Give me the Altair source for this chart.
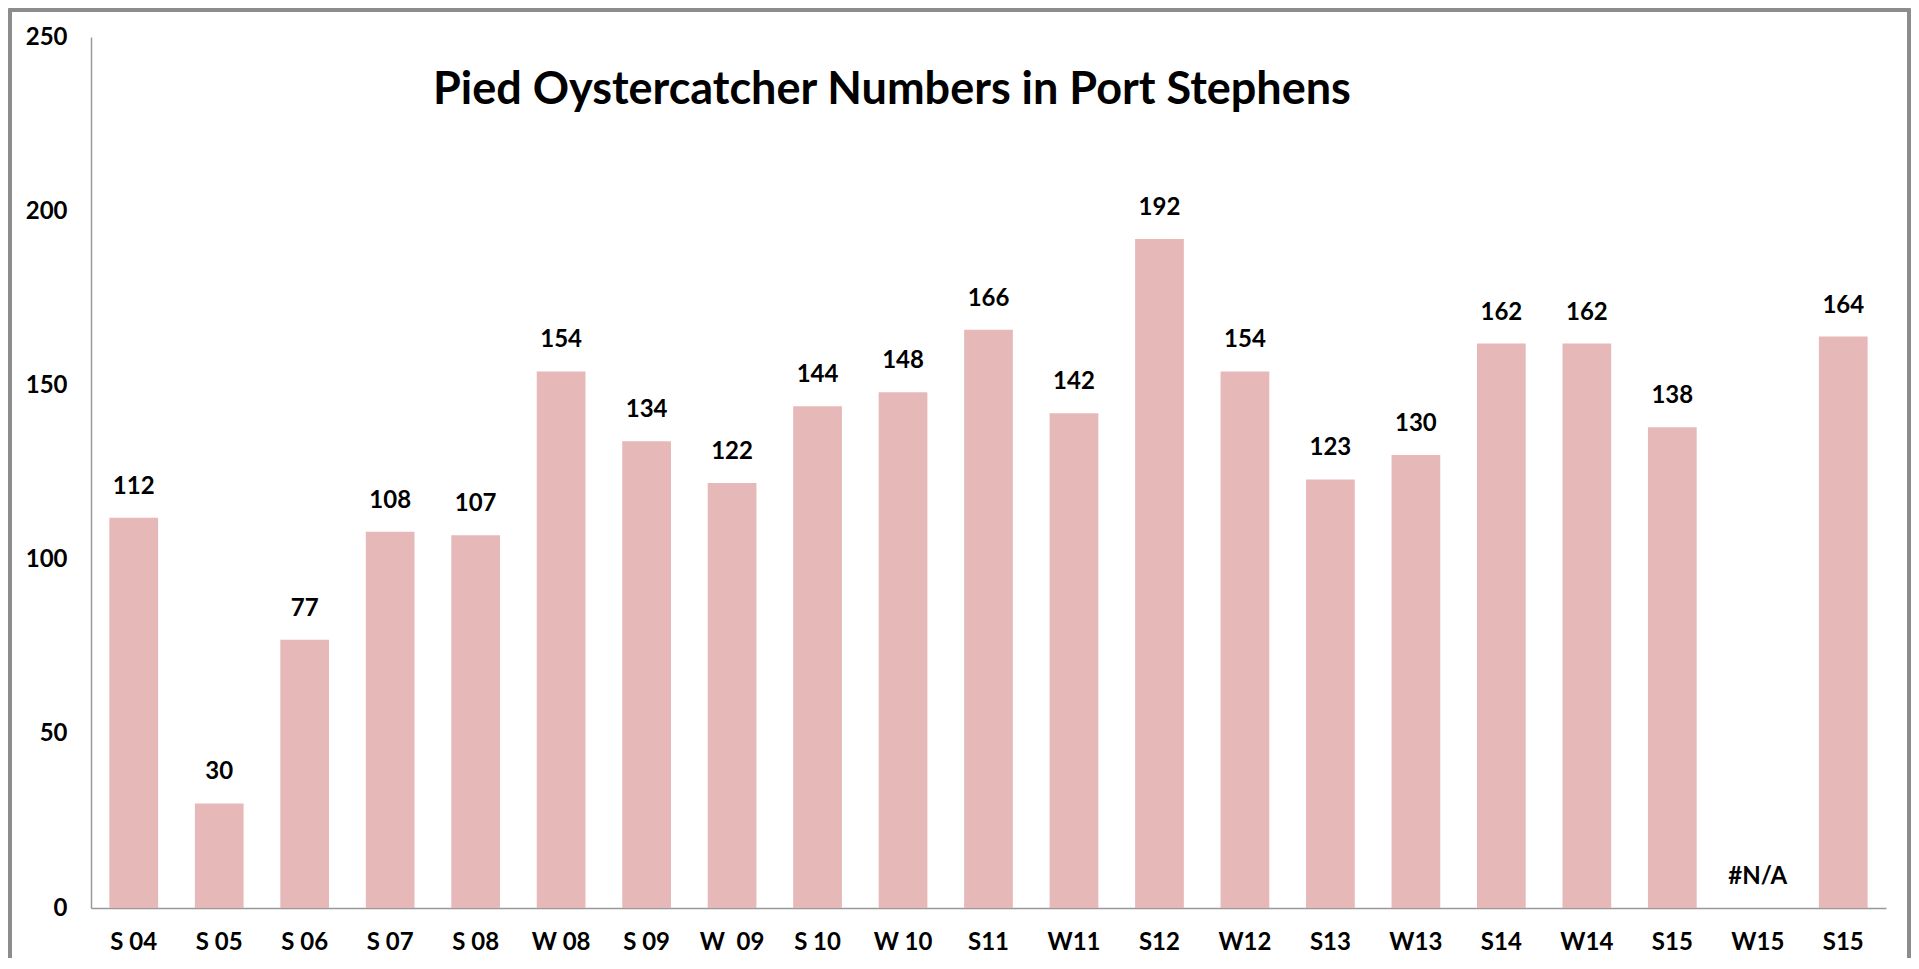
import altair as alt
import pandas as pd

labels = ["S 04", "S 05", "S 06", "S 07", "S 08", "W 08", "S 09", "W\u00a0 09", "S 10", "W 10",
          "S11", "W11", "S12", "W12", "S13", "W13", "S14", "W14", "S15", "W15", "S15"]
values = [112, 30, 77, 108, 107, 154, 134, 122, 144, 148,
          166, 142, 192, 154, 123, 130, 162, 162, 138, None, 164]
y_ticks = [0, 50, 100, 150, 200, 250]

idx = list(range(len(labels)))
df = pd.DataFrame({
    "idx": idx,
    "label": labels,
    "value": values,
})
df["text"] = [("#N/A" if v is None else str(v)) for v in values]
df["ypos"] = [(0 if v is None else v) for v in values]

label_arr = "[" + ",".join("'" + l + "'" for l in labels) + "]"

FONT = "Lato"
x_scale = alt.Scale(domain=idx, paddingInner=0.43, paddingOuter=0.215)
x_enc = alt.X("idx:O", sort=None, scale=x_scale,
              axis=alt.Axis(title=None, labelExpr=label_arr + "[datum.value]",
                            labelAngle=0, ticks=False, labelPadding=22,
                            labelFont=FONT, labelFontSize=24, labelFontWeight="bold",
                            labelColor="black", domainColor="#999999", domainWidth=1.5))
y_scale = alt.Scale(domain=[0, 250], nice=False)

bars = alt.Chart(df).mark_bar(color="#E6B8B8").encode(
    x=x_enc,
    y=alt.Y("value:Q", scale=y_scale,
            axis=alt.Axis(title=None, values=y_ticks, grid=False, ticks=False,
                          labelPadding=24, labelFont=FONT, labelFontSize=24,
                          labelFontWeight="bold", labelColor="black",
                          domainColor="#999999", domainWidth=1.5)),
)

texts = alt.Chart(df).mark_text(dy=-31, font=FONT, fontSize=24, fontWeight="bold",
                                color="black").encode(
    x=alt.X("idx:O", sort=None, scale=x_scale),
    y=alt.Y("ypos:Q", scale=y_scale),
    text="text:N",
)

border = alt.Chart(df).mark_rect(fill=None, stroke="#8c8c8c", strokeWidth=2.5).encode(
    x=alt.value(-81), x2=alt.value(1818), y=alt.value(-27), y2=alt.value(960)
)

chart = alt.layer(bars, texts, border).properties(
    width=1795, height=871,
    padding={"left": 83, "top": 29, "right": 25, "bottom": 50},
    autosize=alt.AutoSizeParams(type="none"),
    title=alt.TitleParams("Pied Oystercatcher Numbers in Port Stephens",
                          anchor="start", frame="group", dx=342, dy=108,
                          font=FONT, fontSize=45, fontWeight="bold", color="black"),
).configure_view(stroke=None)

chart.save("out.html", embed_options={"renderer": "svg", "actions": False})
